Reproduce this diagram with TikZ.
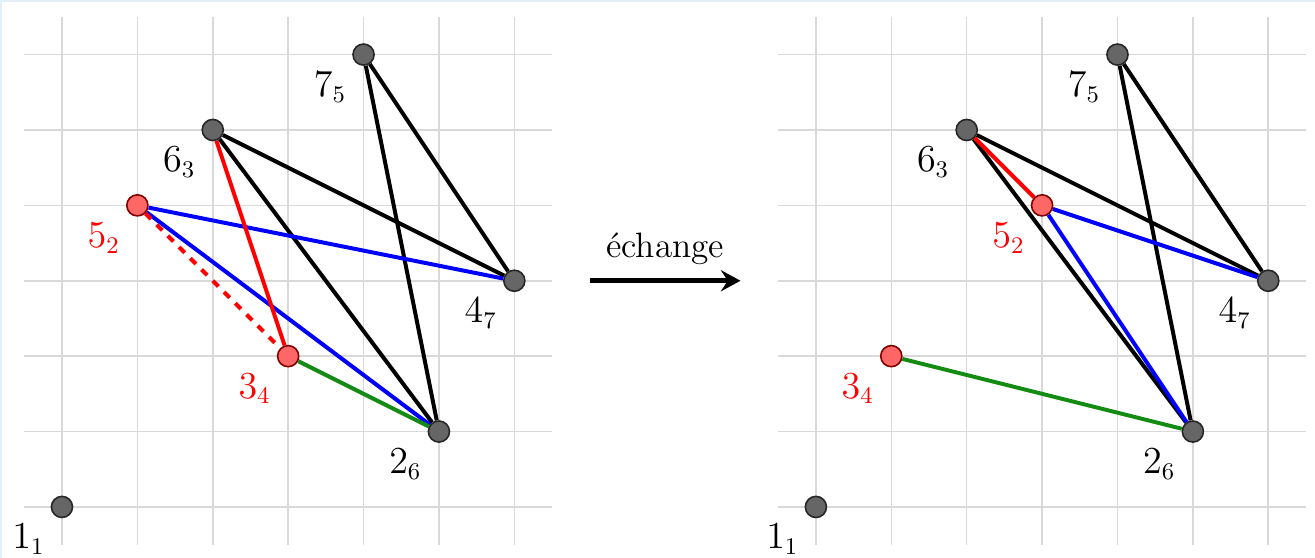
\documentclass[tikz,border=0pt]{standalone}
\usetikzlibrary{arrows.meta}
\pgfdeclarelayer{bg}
\pgfsetlayers{bg,main}
\definecolor{framecol}{RGB}{225,240,250}
\definecolor{darkgreen}{RGB}{20,140,20}
\tikzset{
  gridline/.style={draw=black!15, line width=0.6pt},
  vtx/.style={circle, draw=black!85, fill=black!60, minimum size=0.28cm, inner sep=0pt, line width=0.6pt},
  rvtx/.style={vtx, draw=red!50!black, fill=red!60},
  lbl/.style={font=\fontsize{13.3}{16}\selectfont},
  rlbl/.style={lbl, text=red},
  edge/.style={line width=1.5pt},
  bigarrow/.style={line width=1.7pt, -{Stealth[length=2.6mm,width=2.8mm,inset=0.9mm]}},
}
\begin{document}
\begin{tikzpicture}
\useasboundingbox (-0.822,-0.676) rectangle (16.62,6.724);
\fill[framecol] (-0.822,6.70) rectangle (16.62,6.724);
\fill[framecol] (-0.822,-0.676) rectangle (-0.795,6.724);

% left graph
\begin{pgfonlayer}{bg}
\draw[gridline] (-0.5,-0.5) grid (6.5,6.5);
\end{pgfonlayer}
\node[vtx,label={[lbl]below left:$1_1$}] (a1) at (0,0) {};
\node[vtx,label={[lbl]below left:$2_6$}] (a2) at (5,1) {};
\node[rvtx,label={[rlbl]below left:$3_4$}] (a3) at (3,2) {};
\node[vtx,label={[lbl]below left:$4_7$}] (a4) at (6,3) {};
\node[rvtx,label={[rlbl]below left:$5_2$}] (a5) at (1,4) {};
\node[vtx,label={[lbl]below left:$6_3$}] (a6) at (2,5) {};
\node[vtx,label={[lbl]below left:$7_5$}] (a7) at (4,6) {};
\begin{pgfonlayer}{bg}
\draw[edge] (a6) -- (a4);
\draw[edge] (a6) -- (a2);
\draw[edge] (a7) -- (a4);
\draw[edge] (a7) -- (a2);
\draw[edge,blue] (a5) -- (a4);
\draw[edge,blue] (a5) -- (a2);
\draw[edge,darkgreen] (a3) -- (a2);
\draw[edge,red] (a6) -- (a3);
\draw[edge,red,dashed] (a5) -- (a3);
\end{pgfonlayer}

% arrow
\coordinate (s) at (7,3);
\coordinate (t) at (9,3);
\draw[bigarrow] (s) -- node[lbl,above=2pt] {échange} (t);

% right graph
\begin{scope}[xshift=10cm]
\begin{pgfonlayer}{bg}
\draw[gridline] (-0.5,-0.5) grid (6.5,6.5);
\end{pgfonlayer}
\node[vtx,label={[lbl]below left:$1_1$}] (b1) at (0,0) {};
\node[vtx,label={[lbl]below left:$2_6$}] (b2) at (5,1) {};
\node[rvtx,label={[rlbl]below left:$3_4$}] (b3) at (1,2) {};
\node[vtx,label={[lbl]below left:$4_7$}] (b4) at (6,3) {};
\node[rvtx,label={[rlbl]below left:$5_2$}] (b5) at (3,4) {};
\node[vtx,label={[lbl]below left:$6_3$}] (b6) at (2,5) {};
\node[vtx,label={[lbl]below left:$7_5$}] (b7) at (4,6) {};
\begin{pgfonlayer}{bg}
\draw[edge] (b6) -- (b4);
\draw[edge] (b6) -- (b2);
\draw[edge] (b7) -- (b4);
\draw[edge] (b7) -- (b2);
\draw[edge,blue] (b5) -- (b4);
\draw[edge,blue] (b5) -- (b2);
\draw[edge,darkgreen] (b3) -- (b2);
\draw[edge,red] (b6) -- (b5);
\end{pgfonlayer}
\end{scope}
\end{tikzpicture}
\end{document}
